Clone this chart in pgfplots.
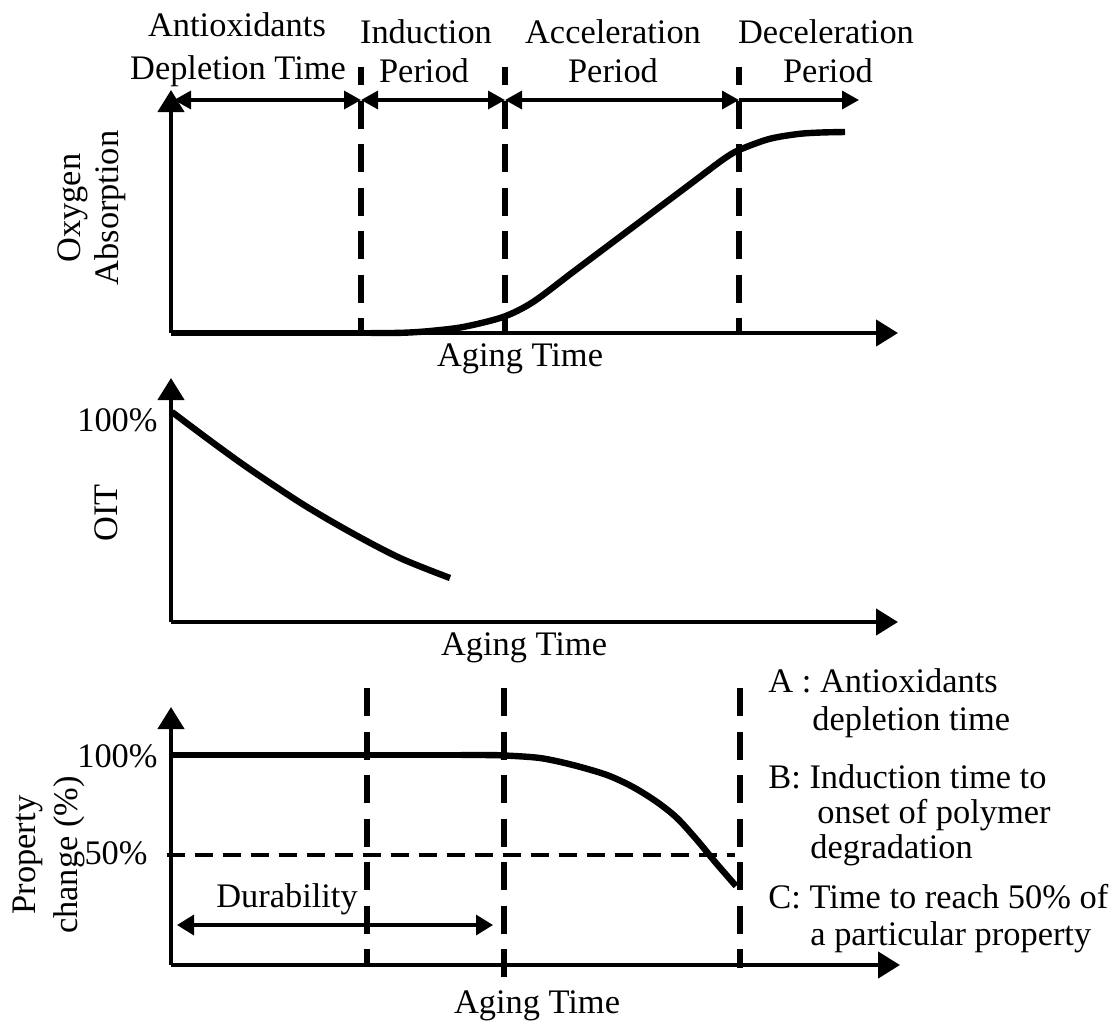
\documentclass[border=0pt]{standalone}
\usepackage{fontspec}
\setmainfont{Liberation Serif}
\usepackage{pgfplots}
\pgfplotsset{compat=1.18}
\usetikzlibrary{arrows.meta}
\begin{document}
\begin{tikzpicture}[font=\fontsize{17.2pt}{20pt}\selectfont]
\begin{scope}[x=0.5pt,y=-0.5pt]
\useasboundingbox (0,0) rectangle (1117,1023);
\end{scope}
\pgfplotsset{panel/.style={x=0.5pt,y=0.5pt,xmin=0,xmax=727,ymin=0,
  axis lines=left,
  axis line style={line width=2.2pt,-{Triangle[length=11pt,width=13pt]}},
  ticks=none, clip=false, anchor=south west, enlargelimits=false},
  vdash/.style={black,line width=3.2pt,dash pattern=on 14pt off 7.75pt},
  curve/.style={black,line width=3.2pt,smooth},
  span/.style={black,line width=1.7pt},
}
% Panel 1: oxygen absorption
\begin{axis}[panel, ymax=243, at={(85.5pt,-166.5pt)}]
\addplot[black,line width=3.2pt] coordinates {(0,0)(220,0)};
\addplot[curve] coordinates {(200,0)(220,0)(238,0.5)(259,2)(292,6)(332,16)(362,31)(402,61)(440,89.5)(480,119.5)(520,149.5)(552,173.5)(568,183)(598,194)(627,199)(650,200.5)(674,201)};
\addplot[vdash,dash phase=5pt] coordinates {(190,266)(190,0)};
\addplot[vdash,dash phase=5pt] coordinates {(334,266)(334,0)};
\addplot[vdash,dash phase=5pt] coordinates {(568,266)(568,0)};
\addplot[span,{Triangle[length=8.5pt,width=9pt]}-{Triangle[length=8.5pt,width=9pt]}] coordinates {(3,233)(190,233)};
\addplot[span,{Triangle[length=8.5pt,width=9pt]}-{Triangle[length=8.5pt,width=9pt]}] coordinates {(190,233)(334,233)};
\addplot[span,{Triangle[length=8.5pt,width=9pt]}-{Triangle[length=8.5pt,width=9pt]}] coordinates {(334,233)(568,233)};
\addplot[span,-{Triangle[length=8.5pt,width=9pt]}] coordinates {(568,233)(688,233)};
\end{axis}
% Panel 2: OIT
\begin{axis}[panel, ymax=244, at={(85.5pt,-311pt)}]
\addplot[curve] coordinates {(1,210)(41,180)(80,152)(133,117)(181,89)(229,64)(279,44)};
\end{axis}
% Panel 3: property change
\begin{axis}[panel, ymax=258, xmax=729, at={(85.5pt,-482.5pt)}]
\addplot[black,line width=2pt,dash pattern=on 9pt off 5pt] coordinates {(-4,110)(564,110)};
\addplot[black,line width=3.2pt] coordinates {(0,210)(310,210)};
\addplot[curve] coordinates {(290,210)(310,210)(332,209.6)(369,207)(402,200)(436,190)(462,178)(486,163)(506,147)(526,125)(545,102)(565,79)};
\addplot[vdash] coordinates {(196,277)(196,0)};
\addplot[vdash] coordinates {(333,277)(333,-12)};
\addplot[vdash] coordinates {(569,277)(569,-3)};
\addplot[span,{Triangle[length=8.5pt,width=10pt]}-{Triangle[length=8.5pt,width=10pt]}] coordinates {(6,40)(322,40)};
\end{axis}
\begin{scope}[x=0.5pt,y=-0.5pt]
% top labels
\node[anchor=base] at (237,36) {Antioxidants};
\node[anchor=base] at (238,79) {Depletion Time};
\node[anchor=base] at (426,43) {Induction};
\node[anchor=base] at (424,82) {Period};
\node[anchor=base] at (613,43) {Acceleration};
\node[anchor=base] at (613,82) {Period};
\node[anchor=base] at (826,43) {Deceleration};
\node[anchor=base] at (828,82) {Period};
% y labels
\node[anchor=base,rotate=90] at (80,208) {Oxygen};
\node[anchor=base,rotate=90] at (118,208) {Absorption};
\node[anchor=base,rotate=90] at (117,513) {OIT};
\node[anchor=base,rotate=90] at (35,855) {Property};
\node[anchor=base,rotate=90] at (77,855) {change (\%)};
% tick-like labels
\node[anchor=base east,inner sep=0pt] at (158,431) {100\%};
\node[anchor=base east,inner sep=0pt] at (158,767) {100\%};
\node[anchor=base east,inner sep=0pt] at (148,864) {50\%};
% x labels
\node[anchor=base] at (520,366) {Aging Time};
\node[anchor=base] at (524,655) {Aging Time};
\node[anchor=base] at (537,1013) {Aging Time};
\node[anchor=base] at (287,907) {Durability};
% legend text
\node[anchor=base west,inner sep=0pt] at (768,692) {A : Antioxidants};
\node[anchor=base west,inner sep=0pt] at (812,730) {depletion time};
\node[anchor=base west,inner sep=0pt] at (768,788) {B: Induction time to};
\node[anchor=base west,inner sep=0pt] at (817,823) {onset of polymer};
\node[anchor=base west,inner sep=0pt] at (810,858) {degradation};
\node[anchor=base west,inner sep=0pt] at (768,908) {C: Time to reach 50\% of};
\node[anchor=base west,inner sep=0pt] at (810,945) {a particular property};
\end{scope}
\end{tikzpicture}
\end{document}
